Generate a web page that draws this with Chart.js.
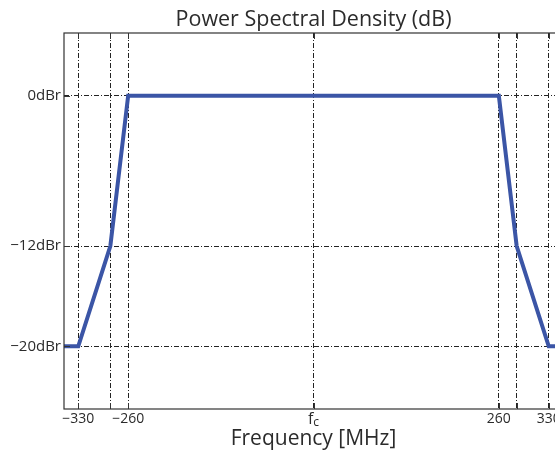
<!DOCTYPE html>
<html>
<head>
<meta charset="utf-8">
<script src="https://cdn.jsdelivr.net/npm/chart.js@4/dist/chart.umd.min.js"></script>
<style>
  html, body { margin: 0; padding: 0; overflow: hidden; background: #ffffff; }
  #wrap { width: 570px; height: 452px; position: relative; }
</style>
</head>
<body>
<div id="wrap"><canvas id="psd" width="570" height="452"></canvas></div>
<script>
// Transmit spectrum mask: frequency offset from the carrier (MHz) vs. relative level (dBr)
const freqMHz  = [-350, -330, -285, -260, 260, 285, 330, 350];
const levelDbr = [ -20,  -20,  -12,    0,   0, -12, -20, -20];

// Frequency grid lines and their labels (the carrier label is drawn separately)
const freqGrid   = [-330, -285, -260, 0, 260, 285, 330];
const freqLabels = ['−330', '', '−260', '', '260', '', '330'];

// Level grid lines and their labels
const levelGrid   = [-20, -12, 0];
const levelLabels = ['−20dBr', '−12dBr', '0dBr'];

const chartTitle = 'Power Spectral Density (dB)';

const FONT = '"Open Sans", "Noto Sans", sans-serif';
const INK = '#2b2b2b';

// Frame round the plot area, inward tick marks, the title over the plot
// and the carrier label under it
const framePlugin = {
  id: 'frame',
  afterDraw(chart) {
    const { ctx, chartArea: a, scales } = chart;
    ctx.save();
    ctx.strokeStyle = '#333333';
    ctx.lineWidth = 1.2;
    ctx.setLineDash([]);
    ctx.strokeRect(a.left, a.top, a.right - a.left, a.bottom - a.top);
    const t = 6;
    ctx.lineWidth = 1;
    ctx.beginPath();
    freqGrid.forEach(v => {
      const x = Math.round(scales.x.getPixelForValue(v)) + 0.5;
      ctx.moveTo(x, a.bottom); ctx.lineTo(x, a.bottom - t);
      ctx.moveTo(x, a.top);    ctx.lineTo(x, a.top + t);
    });
    levelGrid.forEach(v => {
      const y = Math.round(scales.y.getPixelForValue(v)) + 0.5;
      ctx.moveTo(a.left, y);  ctx.lineTo(a.left + t, y);
      ctx.moveTo(a.right, y); ctx.lineTo(a.right - t, y);
    });
    ctx.stroke();

    // title, centred over the plot area
    ctx.fillStyle = INK;
    ctx.textAlign = 'center';
    ctx.textBaseline = 'middle';
    ctx.font = '21.5px ' + FONT;
    ctx.fillText(chartTitle, (a.left + a.right) / 2, 20);

    // carrier frequency label: f with subscript c
    const xc = scales.x.getPixelForValue(0);
    ctx.textBaseline = 'alphabetic';
    ctx.textAlign = 'left';
    ctx.font = '16px ' + FONT;
    const fw = ctx.measureText('f').width;
    ctx.font = '12px ' + FONT;
    const cw = ctx.measureText('c').width;
    const x0 = xc - (fw + cw) / 2;
    ctx.font = '16px ' + FONT;
    ctx.fillText('f', x0, a.bottom + 15);
    ctx.font = '12px ' + FONT;
    ctx.fillText('c', x0 + fw, a.bottom + 17);
    ctx.restore();
  }
};

new Chart(document.getElementById('psd'), {
  type: 'line',
  data: {
    datasets: [{
      data: freqMHz.map((f, i) => ({ x: f, y: levelDbr[i] })),
      borderColor: '#3b55a6',
      borderWidth: 4,
      pointRadius: 0,
      tension: 0,
      fill: false
    }]
  },
  options: {
    responsive: false,
    animation: false,
    devicePixelRatio: 1,
    layout: { padding: { left: 0, right: 7, top: 33, bottom: 0 } },
    plugins: {
      legend: { display: false },
      tooltip: { enabled: false },
      title: { display: false }
    },
    scales: {
      x: {
        type: 'linear',
        min: -350,
        max: 350,
        z: 1,
        afterBuildTicks(scale) { scale.ticks = freqGrid.map(v => ({ value: v })); },
        afterFit(scale) { scale.height = 43; },
        ticks: {
          autoSkip: false,
          maxRotation: 0,
          padding: 2,
          color: INK,
          font: { family: FONT, size: 14 },
          callback(value) {
            const i = freqGrid.indexOf(value);
            return i >= 0 ? freqLabels[i] : '';
          }
        },
        grid: { color: '#222222', lineWidth: 1, drawTicks: false },
        border: { display: false, dash: [5, 2, 1, 2] },
        title: {
          display: true,
          text: 'Frequency [MHz]',
          color: INK,
          font: { family: FONT, size: 21 },
          padding: { top: 0, bottom: 0 }
        }
      },
      y: {
        type: 'linear',
        min: -25,
        max: 5,
        z: 1,
        afterBuildTicks(scale) { scale.ticks = levelGrid.map(v => ({ value: v })); },
        afterFit(scale) { scale.width = 64; },
        ticks: {
          autoSkip: false,
          padding: 3,
          color: INK,
          font: { family: FONT, size: 15 },
          callback(value) {
            const i = levelGrid.indexOf(value);
            return i >= 0 ? levelLabels[i] : '';
          }
        },
        grid: { color: '#222222', lineWidth: 1, drawTicks: false },
        border: { display: false, dash: [5, 2, 1, 2] }
      }
    }
  },
  plugins: [framePlugin]
});
</script>
</body>
</html>
